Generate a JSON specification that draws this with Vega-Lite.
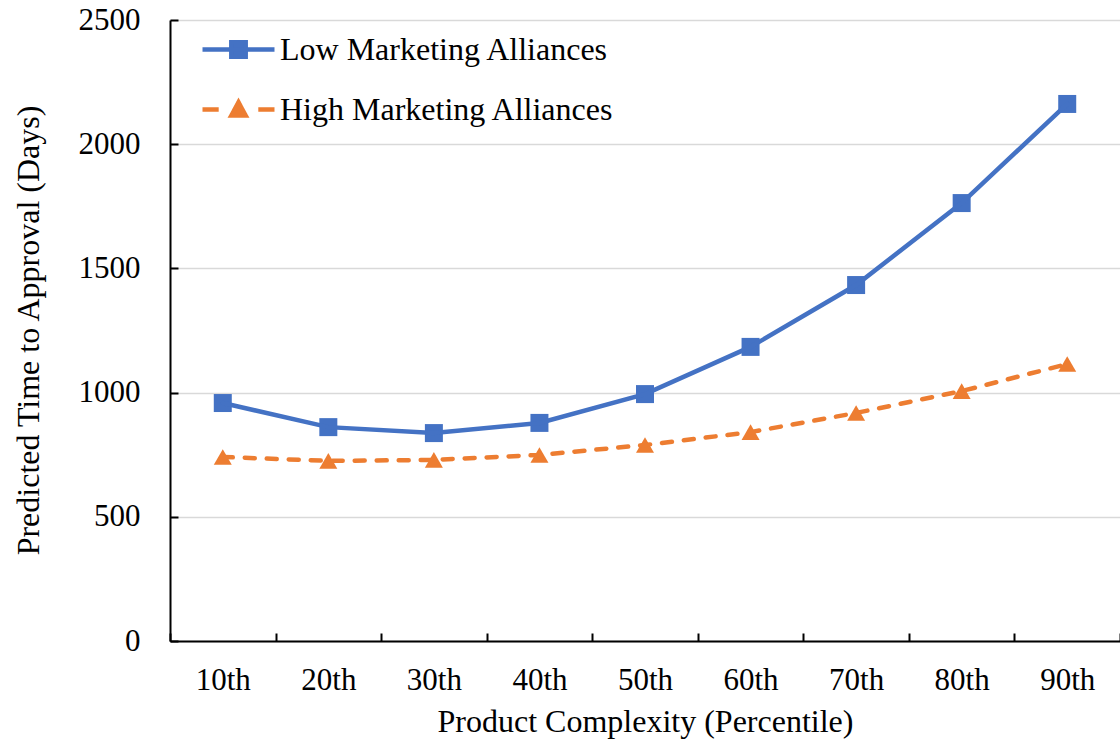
{
  "$schema": "https://vega.github.io/schema/vega-lite/v6.json",
  "width": 950,
  "height": 621,
  "autosize": {"type": "none"},
  "padding": {"left": 170, "top": 20, "right": 0, "bottom": 99},
  "background": "white",
  "config": {
    "font": "Liberation Serif",
    "view": {"stroke": null},
    "legend": {
      "orient": "none",
      "title": null,
      "padding": 0,
      "labelFontSize": 32,
      "labelColor": "black",
      "labelLimit": 0,
      "labelOffset": 3,
      "symbolSize": 5184,
      "symbolStrokeWidth": 4.5,
      "symbolOpacity": 1,
      "symbolDash": [1, 0]
    }
  },
  "data": {
    "values": [
      {"pct": "10th", "series": "Low Marketing Alliances", "days": 958},
      {"pct": "20th", "series": "Low Marketing Alliances", "days": 861},
      {"pct": "30th", "series": "Low Marketing Alliances", "days": 837},
      {"pct": "40th", "series": "Low Marketing Alliances", "days": 878},
      {"pct": "50th", "series": "Low Marketing Alliances", "days": 994},
      {"pct": "60th", "series": "Low Marketing Alliances", "days": 1184},
      {"pct": "70th", "series": "Low Marketing Alliances", "days": 1433},
      {"pct": "80th", "series": "Low Marketing Alliances", "days": 1763},
      {"pct": "90th", "series": "Low Marketing Alliances", "days": 2162},
      {"pct": "10th", "series": "High Marketing Alliances", "days": 741},
      {"pct": "20th", "series": "High Marketing Alliances", "days": 725},
      {"pct": "30th", "series": "High Marketing Alliances", "days": 729},
      {"pct": "40th", "series": "High Marketing Alliances", "days": 749},
      {"pct": "50th", "series": "High Marketing Alliances", "days": 789},
      {"pct": "60th", "series": "High Marketing Alliances", "days": 841},
      {"pct": "70th", "series": "High Marketing Alliances", "days": 918},
      {"pct": "80th", "series": "High Marketing Alliances", "days": 1006},
      {"pct": "90th", "series": "High Marketing Alliances", "days": 1115}
    ]
  },
  "encoding": {
    "x": {
      "field": "pct",
      "type": "ordinal",
      "sort": ["10th", "20th", "30th", "40th", "50th", "60th", "70th", "80th", "90th"],
      "bandPosition": 0.5,
      "scale": {"type": "band", "paddingInner": 0, "paddingOuter": 0},
      "axis": {
        "title": "Product Complexity (Percentile)",
        "tickBand": "extent",
        "ticks": true,
        "tickSize": -8,
        "tickColor": "black",
        "tickWidth": 2,
        "domainColor": "black",
        "domainWidth": 2,
        "grid": false,
        "labelAngle": 0,
        "labelFontSize": 31,
        "labelColor": "black",
        "labelBaseline": "middle",
        "labelPadding": 47,
        "titleFontSize": 32,
        "titleFontWeight": "normal",
        "titleColor": "black",
        "titleBaseline": "middle",
        "titleY": 80
      }
    },
    "y": {
      "field": "days",
      "type": "quantitative",
      "scale": {"domain": [0, 2500], "nice": false},
      "axis": {
        "title": "Predicted Time to Approval (Days)",
        "values": [0, 500, 1000, 1500, 2000, 2500],
        "format": "d",
        "grid": true,
        "gridColor": "#d9d9d9",
        "gridWidth": 1.5,
        "tickSize": -8,
        "tickColor": "black",
        "tickWidth": 2,
        "domainColor": "black",
        "domainWidth": 2,
        "labelFontSize": 31,
        "labelColor": "black",
        "labelPadding": 38,
        "titleFontSize": 32,
        "titleFontWeight": "normal",
        "titleColor": "black",
        "titleAngle": -90,
        "titleAlign": "center",
        "titleBaseline": "middle",
        "titleX": -142,
        "titleY": 310
      }
    }
  },
  "layer": [
    {
      "transform": [{"filter": "datum.series === 'Low Marketing Alliances'"}],
      "encoding": {
        "color": {
          "field": "series",
          "type": "nominal",
          "scale": {"domain": ["Low Marketing Alliances"], "range": ["#4472C4"]},
          "legend": {
            "legendX": 30,
            "legendY": -9,
            "symbolType": "M-1,0H1M-0.2,-0.2H0.2V0.2H-0.2Z",
            "symbolFillColor": "#4472C4",
            "symbolStrokeColor": "#4472C4"
          }
        }
      },
      "layer": [
        {"mark": {"type": "point", "shape": "square", "filled": true, "opacity": 1, "size": 324}},
        {"mark": {"type": "line", "strokeWidth": 4.5, "strokeCap": "round"}}
      ]
    },
    {
      "transform": [{"filter": "datum.series === 'High Marketing Alliances'"}],
      "encoding": {
        "color": {
          "field": "series",
          "type": "nominal",
          "scale": {"domain": ["High Marketing Alliances"], "range": ["#ED7D31"]},
          "legend": {
            "legendX": 30,
            "legendY": 51,
            "symbolType": "M-1,0H-0.55M0.55,0H1M0,-0.2L0.2,0.17H-0.2Z",
            "symbolFillColor": "#ED7D31",
            "symbolStrokeColor": "#ED7D31"
          }
        }
      },
      "layer": [
        {"mark": {"type": "point", "shape": "triangle-up", "filled": true, "opacity": 1, "size": 324}},
        {"mark": {"type": "line", "strokeWidth": 4.5, "strokeCap": "round", "strokeDash": [10, 12]}}
      ]
    }
  ],
  "resolve": {"scale": {"color": "independent"}}
}
